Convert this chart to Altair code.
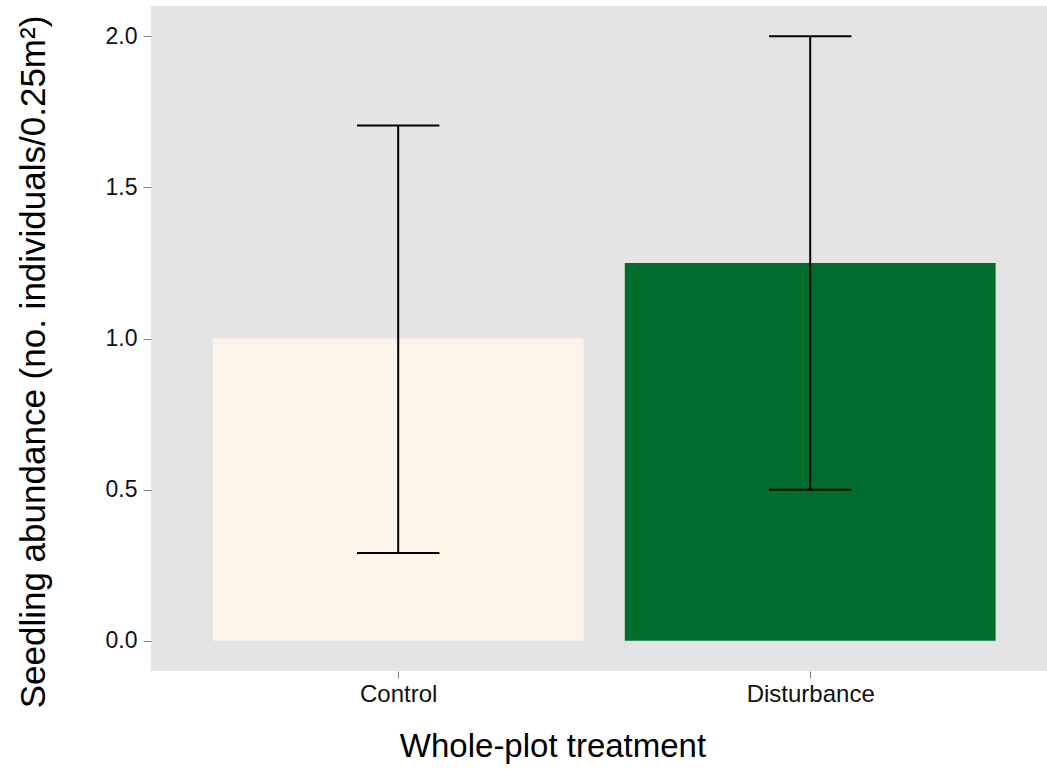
import altair as alt
import pandas as pd

# Seedling abundance per whole-plot treatment (mean with interval bounds)
treatments = ["Control", "Disturbance"]
positions = [1, 2]
means = [1.0, 1.25]
lower = [0.29, 0.5]
upper = [1.705, 2.0]
fills = ["#FEF5EA", "#006D2C"]

df = pd.DataFrame({
    "treatment": treatments,
    "pos": positions,
    "mean": means,
    "lower": lower,
    "upper": upper,
})

PLOT_W, PLOT_H = 896, 665
BAR_HALF = 0.45   # bar width 0.9 in category units
CAP_HALF = 0.1    # error-bar cap width 0.2
STEP_PX = 412     # pixels per category unit

x_scale = alt.Scale(domain=[0.4, 0.4 + PLOT_W / STEP_PX], nice=False, zero=False)
y_scale = alt.Scale(domain=[-0.1, 2.1], nice=False, zero=False)

label_expr = "[" + ",".join(f"'{t}'" for t in treatments) + "][datum.value - 1]"

x_axis = alt.Axis(
    values=positions, labelExpr=label_expr, title="Whole-plot treatment",
    labelFontSize=24, labelPadding=4, tickSize=7,
    titleFontSize=33, titleFontWeight="normal", titleX=401.5, titleY=85,
    titleAlign="center", titleBaseline="alphabetic",
)
y_axis = alt.Axis(
    values=[0, 0.5, 1.0, 1.5, 2.0], format=".1f",
    title="Seedling abundance (no. individuals/0.25m²)",
    labelFontSize=23, labelPadding=6, tickSize=8,
    titleFontSize=35, titleFontWeight="normal", titleAngle=270,
    titleX=-107, titleY=355.5, titleAlign="center", titleBaseline="alphabetic",
)

base = alt.Chart(df)

bars = base.transform_calculate(
    x0=f"datum.pos - {BAR_HALF}", x1=f"datum.pos + {BAR_HALF}"
).mark_bar().encode(
    x=alt.X("x0:Q", scale=x_scale, axis=x_axis),
    x2="x1:Q",
    y=alt.Y("mean:Q", scale=y_scale, axis=y_axis),
    y2=alt.datum(0),
    color=alt.Color("treatment:N", scale=alt.Scale(domain=treatments, range=fills), legend=None),
)

stem = base.mark_rule(color="black", strokeWidth=2).encode(
    x=alt.X("pos:Q", scale=x_scale),
    y=alt.Y("lower:Q", scale=y_scale),
    y2="upper:Q",
)

caps_base = base.transform_calculate(
    c0=f"datum.pos - {CAP_HALF}", c1=f"datum.pos + {CAP_HALF}"
)
cap_low = caps_base.mark_rule(color="black", strokeWidth=2).encode(
    x=alt.X("c0:Q", scale=x_scale), x2="c1:Q",
    y=alt.Y("lower:Q", scale=y_scale),
)
cap_high = caps_base.mark_rule(color="black", strokeWidth=2).encode(
    x=alt.X("c0:Q", scale=x_scale), x2="c1:Q",
    y=alt.Y("upper:Q", scale=y_scale),
)

chart = alt.layer(bars, stem, cap_low, cap_high).properties(
    width=PLOT_W, height=PLOT_H,
    autosize=alt.AutoSizeParams(type="none"),
    padding={"left": 151, "top": 6, "right": 0, "bottom": 98},
    background="white",
).configure_view(
    fill="#E4E4E4", stroke=None,
).configure_axis(
    grid=False, domain=False,
    tickColor="#808080", tickWidth=1,
    labelColor="#111111", titleColor="#000000",
    labelFont="Liberation Sans", titleFont="Liberation Sans",
)

chart.save("out.html", embed_options={"renderer": "svg", "actions": False})
